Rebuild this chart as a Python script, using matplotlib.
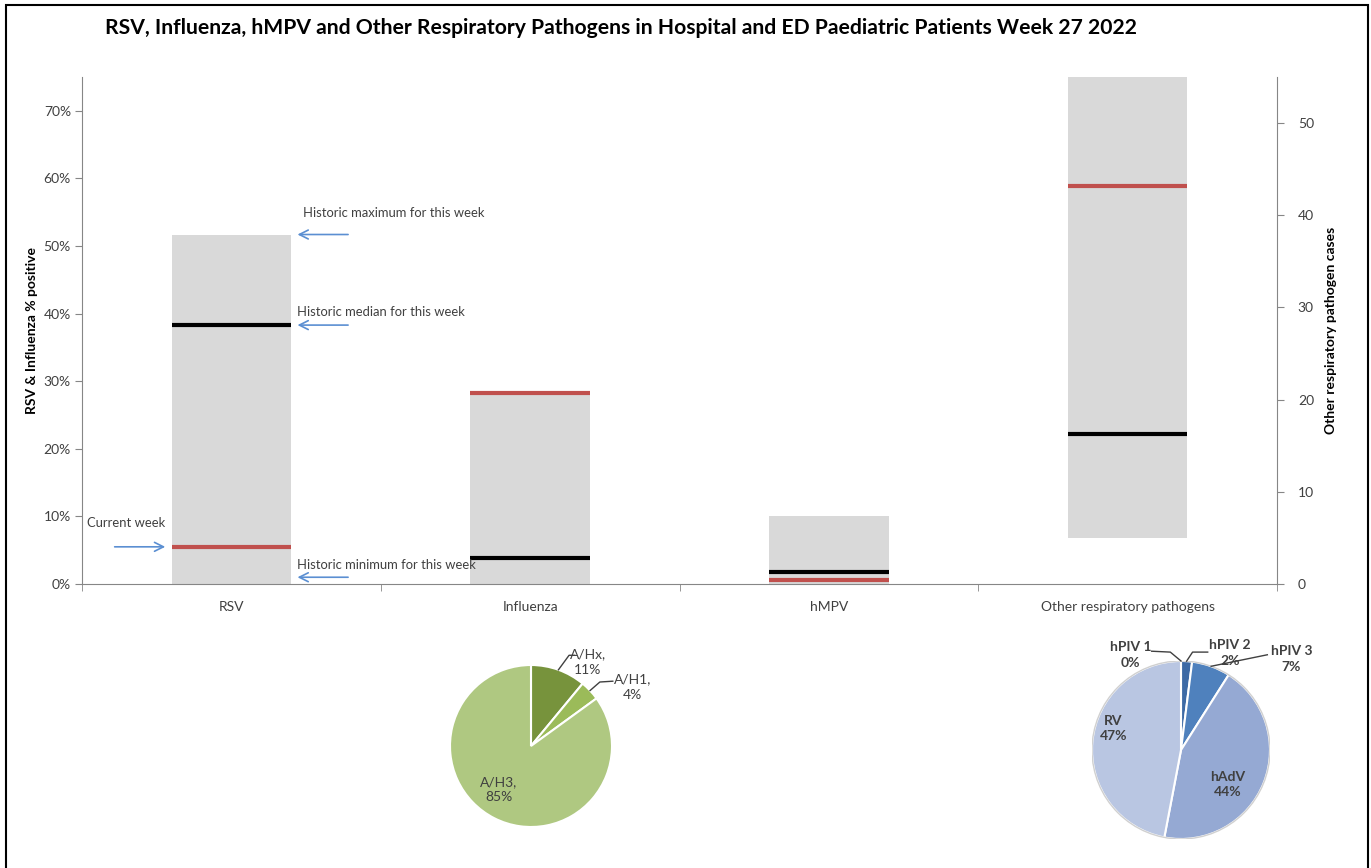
import matplotlib.pyplot as plt
import matplotlib.patches as mpatches
from matplotlib.ticker import PercentFormatter
import numpy as np

plt.rcParams["font.family"] = ["Lato", "DejaVu Sans"]
plt.rcParams["font.size"] = 10

# main chart data (left axis: fraction positive, right axis: cases)
categories = ["RSV", "Influenza", "hMPV", "Other respiratory pathogens"]
hist_min = [0.0, 0.0, 0.0]
hist_max = [0.517, 0.282, 0.100]
hist_median = [0.383, 0.038, 0.018]
current_week = [0.055, 0.282, 0.006]

other_min = 5.0
other_max = 57.0
other_median = 16.3
other_current = 43.2

# influenza A subtypes
flu_labels = ["A/Hx", "A/H1", "A/H3"]
flu_values = [11, 4, 85]
flu_colors = ["#77933C", "#9BBB59", "#AFC881"]

# other respiratory pathogens
oth_labels = ["hPIV 1", "hPIV 2", "hPIV 3", "hAdV", "RV"]
oth_values = [0, 2, 7, 44, 47]
oth_colors = ["#2C4D75", "#3D6AA5", "#4F81BD", "#95A9D3", "#B9C6E2"]

W, H = 1371, 868
GREY = "#D9D9D9"
RED = "#C0504D"
ARROW = "#5B8FD2"
TXT = "#404040"
SPINE = "#868686"
BAR_W = 0.4


def px_box(x0, y0, x1, y1):
    """pixel box (top-left origin) -> figure rect"""
    return [x0 / W, 1 - y1 / H, (x1 - x0) / W, (y1 - y0) / H]


fig = plt.figure(figsize=(W / 100, H / 100), dpi=100)

ax = fig.add_axes(px_box(82, 77, 1277, 584))
ax2 = ax.twinx()

x = np.arange(len(categories))
lo = np.array(hist_min)
hi = np.array(hist_max)
ax.bar(x[:3], hi - lo, bottom=lo, width=BAR_W, color=GREY, zorder=1)
ax.hlines(current_week, x[:3] - BAR_W / 2, x[:3] + BAR_W / 2, color=RED, lw=3, zorder=2)
ax.hlines(hist_median, x[:3] - BAR_W / 2, x[:3] + BAR_W / 2, color="black", lw=3, zorder=3)

ax2.bar([x[3]], [other_max - other_min], bottom=[other_min], width=BAR_W, color=GREY, zorder=1)
ax2.hlines([other_current], x[3] - BAR_W / 2, x[3] + BAR_W / 2, color=RED, lw=3, zorder=2)
ax2.hlines([other_median], x[3] - BAR_W / 2, x[3] + BAR_W / 2, color="black", lw=3, zorder=3)

ax.set_xlim(-0.5, len(categories) - 0.5)
ax.set_ylim(0, 0.75)
ax2.set_ylim(0, 55)
ax.set_yticks(np.arange(0, 0.71, 0.1))
ax.yaxis.set_major_formatter(PercentFormatter(xmax=1, decimals=0))
ax2.set_yticks(np.arange(0, 51, 10))

ax.set_xticks(x)
ax.set_xticklabels(categories, color=TXT)
ax.set_xticks(np.arange(-0.5, len(categories)), minor=True)
ax.tick_params(axis="x", which="major", length=0, pad=12)
ax.tick_params(axis="x", which="minor", length=5, color=SPINE, direction="out")
ax.tick_params(axis="y", length=5, color=SPINE, labelcolor=TXT, pad=3)
ax2.tick_params(axis="y", length=5, color=SPINE, labelcolor=TXT, pad=10)

for a in (ax, ax2):
    a.spines["top"].set_visible(False)
    for s in ("left", "right", "bottom"):
        a.spines[s].set_color(SPINE)
ax.spines["right"].set_visible(False)
ax2.spines["left"].set_visible(False)
ax2.spines["bottom"].set_visible(False)

ax.set_ylabel("RSV & Influenza % positive", fontweight="bold", fontsize=10)
ax.yaxis.set_label_coords(-0.037, 0.5)
ax2.set_ylabel("Other respiratory pathogen cases", fontweight="bold", fontsize=10)
ax2.yaxis.set_label_coords(1.04, 0.5)

fig.text(621 / W, 1 - 28 / H,
         "RSV, Influenza, hMPV and Other Respiratory Pathogens in Hospital and ED Paediatric Patients Week 27 2022",
         ha="center", va="center", fontsize=15.2, fontweight="bold", color="black")

# explanatory arrows next to the RSV bar
arrow_kw = dict(arrowstyle="->", color=ARROW, lw=1.2, mutation_scale=16)
rsv_right = x[0] + BAR_W / 2
for label, yv, tx, ty in [("Historic maximum for this week", hist_max[0], 0.239, 0.549),
                          ("Historic median for this week", hist_median[0], 0.219, 0.403),
                          ("Historic minimum for this week", 0.010, 0.219, 0.028)]:
    ax.annotate("", xy=(rsv_right + 0.012, yv), xytext=(rsv_right + 0.2, yv), arrowprops=arrow_kw)
    ax.text(tx, ty, label, ha="left", va="center", fontsize=9.4, color=TXT)

ax.annotate("", xy=(x[0] - BAR_W / 2 - 0.012, current_week[0]), xytext=(-0.40, current_week[0]),
            arrowprops=arrow_kw)
ax.text(-0.483, 0.090, "Current week", ha="left", va="center", fontsize=9.4, color=TXT)

# influenza subtype pie
r1 = 81
pax1 = fig.add_axes(px_box(531 - r1, 746 - r1, 531 + r1, 746 + r1))
w1, _ = pax1.pie(flu_values, colors=flu_colors, startangle=90, counterclock=False,
                 wedgeprops=dict(edgecolor="white", linewidth=1.5))
pax1.set_xlim(-1, 1)
pax1.set_ylim(-1, 1)

flu_text_pos = [(0.70, 1.04), (1.25, 0.73), (-0.40, -0.54)]
flu_elbows = [[(0.47, 1.12), (0.54, 1.12)], [(0.85, 0.79), (1.01, 0.80)], None]
for wdg, lab, val, pos, elb in zip(w1, flu_labels, flu_values, flu_text_pos, flu_elbows):
    pax1.text(pos[0], pos[1], f"{lab},\n{val}%", ha="center", va="center",
              fontsize=10, color=TXT, linespacing=1.35)
    if elb:
        mid = np.deg2rad((wdg.theta1 + wdg.theta2) / 2)
        pts = [(np.cos(mid), np.sin(mid))] + elb
        pax1.plot(*zip(*pts), color=TXT, lw=1, clip_on=False)

# other pathogens pie
r2 = 89
pax2 = fig.add_axes(px_box(1181 - r2, 750 - r2, 1181 + r2, 750 + r2))
w2, _ = pax2.pie(oth_values, colors=oth_colors, startangle=90, counterclock=False,
                 wedgeprops=dict(edgecolor="white", linewidth=1.5))
pax2.add_patch(mpatches.Circle((0, 0), 1.0, fill=False, edgecolor="#D0D0D0", lw=1))
pax2.set_xlim(-1, 1)
pax2.set_ylim(-1, 1)

oth_text_pos = [(-0.57, 1.07), (0.55, 1.09), (1.24, 1.02), (0.52, -0.39), (-0.76, 0.24)]
oth_elbows = [[(-0.12, 1.10), (-0.33, 1.11)], [(0.13, 1.10), (0.30, 1.10)], [(0.97, 1.07)], None, None]
for wdg, lab, val, pos, elb in zip(w2, oth_labels, oth_values, oth_text_pos, oth_elbows):
    if elb:
        mid = np.deg2rad((wdg.theta1 + wdg.theta2) / 2)
        pts = [(np.cos(mid), np.sin(mid))] + elb
        pax2.plot(*zip(*pts), color=TXT, lw=1, clip_on=False)
    pax2.text(pos[0], pos[1], f"{lab}\n{val}%", ha="center", va="center",
              fontsize=10, fontweight="bold", color=TXT, linespacing=1.35)

# outer frame of the exported chart
fig.patches.append(mpatches.Rectangle((6 / W, -0.05), (1368 - 6) / W, 1 - 5 / H + 0.05,
                                      transform=fig.transFigure, fill=False,
                                      edgecolor="black", lw=1.5))

fig.savefig("out.png", dpi=100)
